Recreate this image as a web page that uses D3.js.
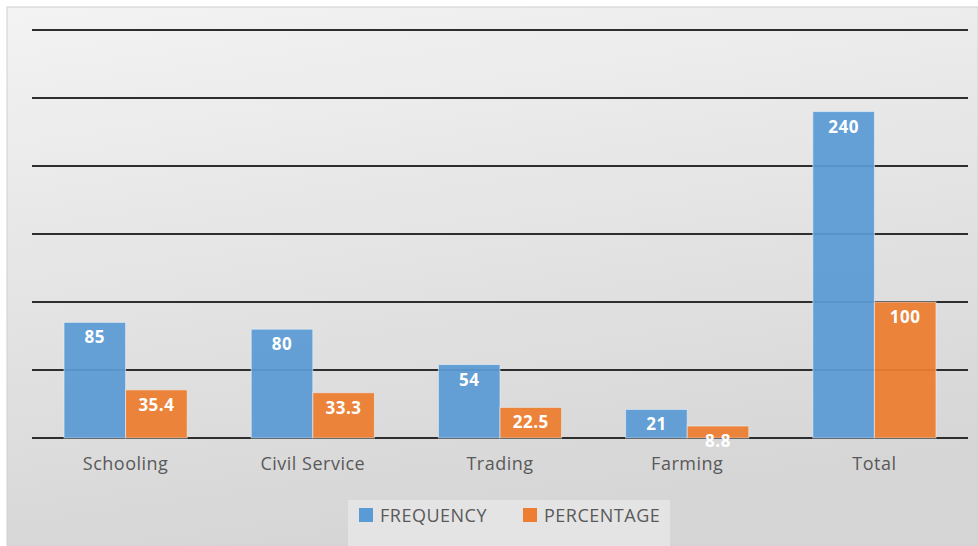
<!DOCTYPE html>
<html>
<head>
<meta charset="utf-8">
<script src="https://cdn.jsdelivr.net/npm/d3@7"></script>
<style>
  html, body { margin: 0; padding: 0; background: #ffffff; }
  svg { display: block; }
  text { font-family: "Open Sans", "Noto Sans", sans-serif; }
</style>
</head>
<body>
<svg id="chart" width="978" height="546"></svg>
<script>
// Occupation breakdown: counts and shares
const categories = ["Schooling", "Civil Service", "Trading", "Farming", "Total"];
const seriesNames = ["FREQUENCY", "PERCENTAGE"];
const frequency = [85, 80, 54, 21, 240];
const percentage = [35.4, 33.3, 22.5, 8.8, 100];
const yTicks = [0, 50, 100, 150, 200, 250, 300];
const colors = ["#5b9bd5", "#ed7d31"];

const rows = categories.map((c, i) => ({ cat: c, values: [frequency[i], percentage[i]] }));

const W = 978, H = 546;
const plot = { left: 32, right: 968, top: 30, bottom: 438 };

const svg = d3.select("#chart");
const defs = svg.append("defs");
const grad = defs.append("linearGradient").attr("id", "bg")
  .attr("x1", "0").attr("y1", "0").attr("x2", "0.25").attr("y2", "1");
grad.append("stop").attr("offset", "0").attr("stop-color", "#f3f3f3");
grad.append("stop").attr("offset", "1").attr("stop-color", "#d6d6d6");

// chart area background
svg.append("rect").attr("x", 7).attr("y", 7).attr("width", W - 7).attr("height", H - 7)
  .attr("fill", "url(#bg)").attr("stroke", "#d0d0d0").attr("stroke-width", 1);

const x0 = d3.scaleBand().domain(categories).range([plot.left, plot.right]).padding(0);
const x1 = d3.scaleBand().domain(seriesNames).range([0, x0.bandwidth()])
  .paddingInner(0).paddingOuter(0.52);
const y = d3.scaleLinear().domain([0, 300]).range([plot.bottom, plot.top]);

// gridlines
svg.append("g").selectAll("line").data(yTicks).join("line")
  .attr("x1", plot.left).attr("x2", plot.right)
  .attr("y1", d => y(d)).attr("y2", d => y(d))
  .attr("stroke", "#2e2e2e").attr("stroke-width", 2);

// bars
const groups = svg.append("g").selectAll("g").data(rows).join("g")
  .attr("transform", d => `translate(${x0(d.cat)},0)`);

groups.selectAll("rect").data(d => d.values.map((v, i) => ({ v, i }))).join("rect")
  .attr("x", d => x1(seriesNames[d.i]))
  .attr("width", x1.bandwidth())
  .attr("y", d => y(d.v))
  .attr("height", d => y(0) - y(d.v))
  .attr("fill", d => colors[d.i])
  .attr("fill-opacity", 0.94)
  .attr("stroke", "#eaf1f8").attr("stroke-opacity", 0.6).attr("stroke-width", 1);

// value labels
groups.selectAll("text.val").data(d => d.values.map((v, i) => ({ v, i }))).join("text")
  .attr("class", "val")
  .attr("x", d => x1(seriesNames[d.i]) + x1.bandwidth() / 2)
  .attr("y", d => y(d.v) + 21)
  .attr("text-anchor", "middle")
  .attr("fill", "#ffffff")
  .attr("font-weight", "bold")
  .attr("font-size", 17)
  .attr("letter-spacing", 0.5)
  .text(d => d.v);

// category axis labels
const xAxis = d3.axisBottom(x0).tickSize(0).tickPadding(19);
const gx = svg.append("g").attr("transform", `translate(0,${plot.bottom})`).call(xAxis);
gx.select(".domain").remove();
gx.selectAll("text")
  .attr("font-size", 18).attr("fill", "#595959").attr("letter-spacing", 0.5)
  .style("font-family", "'Open Sans', 'Noto Sans', sans-serif");

// legend
const legend = svg.append("g");
legend.append("rect").attr("x", 348).attr("y", 500).attr("width", 322).attr("height", 46)
  .attr("fill", "#e4e4e4");
const legX = [359, 523];
seriesNames.forEach((s, i) => {
  legend.append("rect").attr("x", legX[i]).attr("y", 508).attr("width", 14).attr("height", 14)
    .attr("fill", colors[i]);
  legend.append("text").attr("x", legX[i] + 21).attr("y", 522)
    .attr("font-size", 18).attr("letter-spacing", 0.5).attr("fill", "#595959").text(s);
});
</script>
</body>
</html>
